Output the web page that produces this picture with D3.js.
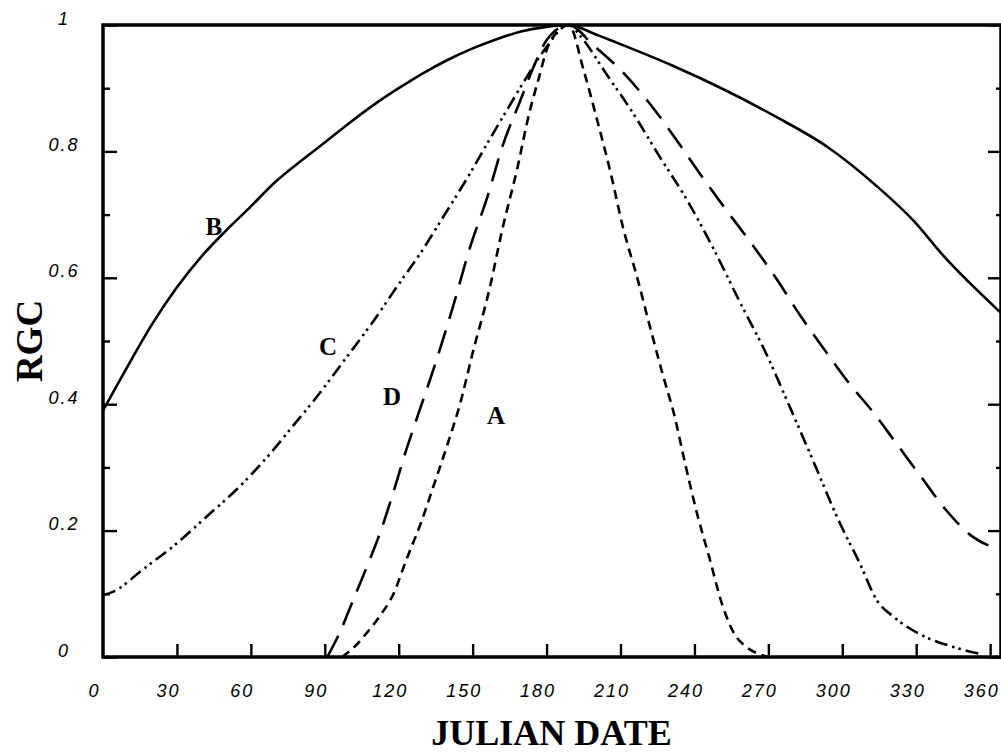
<!DOCTYPE html>
<html>
<head>
<meta charset="utf-8">
<script src="https://cdn.jsdelivr.net/npm/d3@7/dist/d3.min.js"></script>
<style>
  html, body { margin: 0; padding: 0; background: #fff; }
  svg { display: block; }
  .tick-label { font-family: "Liberation Sans", Arial, sans-serif; font-style: italic; font-size: 18px; letter-spacing: 2px; fill: #000; }
  .title { font-family: "Liberation Serif", "Times New Roman", serif; font-weight: bold; fill: #000; }
</style>
</head>
<body>
<svg id="chart" width="1001" height="755"></svg>
<script>
// Relative growth curves (RGC) over the Julian year
const daysA = [97, 101.5, 107, 112, 118, 123, 129, 134, 140, 145, 150, 157, 162, 168, 173, 177, 180, 184, 189, 195, 200.5, 206, 211, 217, 222, 227, 232, 236, 241, 246, 251.6, 256, 261, 266, 270];
const rgcA  = [0, 0.014, 0.038, 0.063, 0.101, 0.153, 0.212, 0.269, 0.339, 0.402, 0.481, 0.585, 0.676, 0.771, 0.861, 0.918, 0.96, 0.988, 1.0, 0.929, 0.85, 0.766, 0.68, 0.597, 0.522, 0.449, 0.38, 0.31, 0.228, 0.158, 0.079, 0.038, 0.016, 0.005, 0];

const daysB = [0, 10, 20, 30, 40, 50, 60, 70, 80, 90, 100, 110, 120, 130, 140, 150, 160, 170, 180, 189, 200, 213, 231, 253, 273, 294, 314, 329, 341, 364];
const rgcB  = [0.39, 0.46, 0.527, 0.585, 0.634, 0.675, 0.713, 0.752, 0.784, 0.814, 0.845, 0.874, 0.9, 0.924, 0.945, 0.963, 0.978, 0.99, 0.997, 1.0, 0.985, 0.965, 0.936, 0.896, 0.855, 0.807, 0.745, 0.69, 0.635, 0.546];

const daysC = [0, 4, 16, 30, 42, 55, 67, 78, 85, 99, 110, 120, 129, 138, 148, 156, 164, 172, 179, 189, 194, 204, 215, 226, 237, 248, 258, 269, 278, 288, 299, 307, 314, 321, 332, 345, 357];
const rgcC  = [0.098, 0.103, 0.138, 0.18, 0.222, 0.268, 0.318, 0.37, 0.403, 0.475, 0.533, 0.59, 0.64, 0.696, 0.759, 0.813, 0.866, 0.918, 0.96, 1.0, 0.981, 0.924, 0.861, 0.791, 0.723, 0.644, 0.565, 0.481, 0.402, 0.312, 0.212, 0.149, 0.09, 0.063, 0.035, 0.016, 0.004];

const daysD = [91, 96, 101.5, 107, 112.4, 117.7, 123, 128, 134, 142, 149, 156, 162, 169, 176, 180, 189, 199, 211, 222, 232, 242, 252, 263, 273, 283, 293, 303, 313, 321, 332, 342, 353, 364];
const rgcD  = [0, 0.038, 0.09, 0.142, 0.196, 0.259, 0.327, 0.385, 0.454, 0.554, 0.649, 0.728, 0.807, 0.877, 0.945, 0.976, 1.0, 0.968, 0.925, 0.875, 0.822, 0.766, 0.712, 0.655, 0.6, 0.54, 0.485, 0.432, 0.385, 0.343, 0.285, 0.233, 0.19, 0.17];

const xTicks = [0, 30, 60, 90, 120, 150, 180, 210, 240, 270, 300, 330, 360];
const yTicks = [0, 0.1, 0.2, 0.3, 0.4, 0.5, 0.6, 0.7, 0.8, 0.9, 1.0];
const yLabels = ["0", "0.2", "0.4", "0.6", "0.8", "1"];

const curveLabels = [
  { name: "B", day: 45, v: 0.668 },
  { name: "C", day: 91.3, v: 0.478 },
  { name: "D", day: 117.3, v: 0.398 },
  { name: "A", day: 159.5, v: 0.369 }
];

const svg = d3.select("#chart");
const mLeft = 103, mRight = 1000, mTop = 25, mBottom = 657;
const x = d3.scaleLinear().domain([0, 364]).range([mLeft, mRight]);
const y = d3.scaleLinear().domain([0, 1]).range([mBottom, mTop]);

svg.append("rect").attr("width", 1001).attr("height", 755).attr("fill", "#fff");

svg.append("clipPath").attr("id", "plot-clip")
  .append("rect").attr("x", mLeft).attr("y", mTop - 2).attr("width", mRight - mLeft).attr("height", mBottom - mTop + 4);

const line = d3.line().x(d => x(d[0])).y(d => y(d[1])).curve(d3.curveMonotoneX);
const series = [
  { days: daysB, vals: rgcB, dash: null },
  { days: daysC, vals: rgcC, dash: "13,5,2.5,4,2.5,5" },
  { days: daysD, vals: rgcD, dash: "24,12" },
  { days: daysA, vals: rgcA, dash: "9,6" }
];
const plot = svg.append("g").attr("clip-path", "url(#plot-clip)");
series.forEach(s => {
  plot.append("path")
    .datum(d3.zip(s.days, s.vals))
    .attr("d", line)
    .attr("fill", "none")
    .attr("stroke", "#000")
    .attr("stroke-width", 2.6)
    .attr("stroke-dasharray", s.dash)
    .attr("stroke-linejoin", "round");
});

// Bottom axis: ticks point up into the plot
const xAxis = svg.append("g").attr("transform", `translate(0,${mBottom})`)
  .call(d3.axisBottom(x).tickValues(xTicks).tickSize(-13).tickFormat(d3.format("d")));
xAxis.select(".domain").remove();
xAxis.attr("font-size", null).attr("font-family", null);
xAxis.selectAll(".tick line").attr("stroke", "#000").attr("stroke-width", 2.4)
  .filter(d => d === 0).remove();
xAxis.selectAll(".tick text")
  .attr("class", "tick-label").attr("fill", null)
  .attr("x", -9).attr("y", 40).attr("dy", null);

// Left axis: minor and major ticks pointing right
const isMajor = d => Math.abs(Math.round(d * 10) % 2) === 0;
const yAxisL = svg.append("g").attr("transform", `translate(${mLeft},0)`)
  .call(d3.axisLeft(y).tickValues(yTicks).tickSize(-7).tickFormat(d => {
    const i = Math.round(d * 5);
    return isMajor(d) ? yLabels[i] : "";
  }));
yAxisL.select(".domain").remove();
yAxisL.attr("font-size", null).attr("font-family", null);
yAxisL.selectAll(".tick line").attr("stroke", "#000").attr("stroke-width", 2.4)
  .attr("x2", d => isMajor(d) ? 14 : 7);
yAxisL.selectAll(".tick text")
  .attr("class", "tick-label").attr("fill", null)
  .attr("text-anchor", "middle").attr("x", -39).attr("y", -1).attr("dy", null);

// Right axis: ticks pointing left
const yAxisR = svg.append("g").attr("transform", `translate(1001,0)`)
  .call(d3.axisRight(y).tickValues(yTicks).tickSize(-5).tickFormat(""));
yAxisR.select(".domain").remove();
yAxisR.selectAll(".tick line").attr("stroke", "#000").attr("stroke-width", 2.4)
  .attr("x2", d => isMajor(d) ? -13 : -5);

// Frame
svg.append("path")
  .attr("d", `M${mLeft},${mBottom}V${mTop}H1001V${mBottom}Z`)
  .attr("fill", "none").attr("stroke", "#000").attr("stroke-width", 3.5);

// Curve names
svg.selectAll(".curve-name").data(curveLabels).enter().append("text")
  .attr("class", "title curve-name")
  .attr("x", d => x(d.day)).attr("y", d => y(d.v))
  .attr("text-anchor", "middle").attr("font-size", 25)
  .text(d => d.name);

// Axis titles
svg.append("text").attr("class", "title")
  .attr("x", (mLeft + mRight) / 2).attr("y", 745)
  .attr("text-anchor", "middle").attr("font-size", 36)
  .text("JULIAN DATE");
svg.append("text").attr("class", "title")
  .attr("transform", `translate(42,${(mTop + mBottom) / 2}) rotate(-90)`)
  .attr("text-anchor", "middle").attr("font-size", 37)
  .text("RGC");
</script>
</body>
</html>
